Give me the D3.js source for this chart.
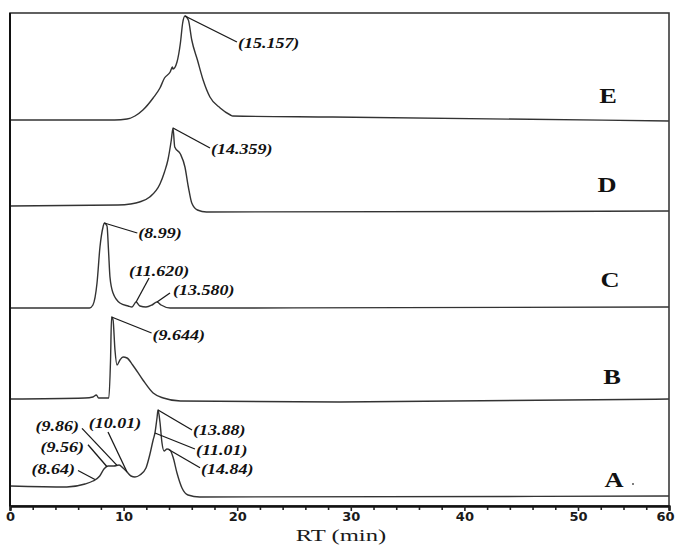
<!DOCTYPE html>
<html>
<head>
<meta charset="utf-8">
<script src="https://cdn.jsdelivr.net/npm/d3@7"></script>
<style>
  body { margin: 0; background: #fff; }
  svg { display: block; }
</style>
</head>
<body>
<svg id="chart" width="677" height="545"></svg>
<script>
// Retention time (min) and detector signal for each sample, stacked bottom (A) to top (E)
const sampleNames = ["A", "B", "C", "D", "E"];

const traceA = [[0,21],[5.0,20],[6.6,23],[7.3,26],[7.9,31],[8.27,38],[8.63,41],[9.15,41],[9.6,42],[9.95,39],
  [10.3,35],[10.65,31],[11.0,30],[11.44,32],[11.97,39],[12.3,52],[12.6,67],[12.76,74],[12.94,89],[13.03,97],
  [13.2,85],[13.38,64],[13.56,56],[13.82,58],[14.08,57],[14.35,50],[14.7,34],[15.14,19],[15.67,12],[16.7,10],[60,11]];

const traceB = [[0,108],[6.6,109],[7.3,110],[7.6,112],[7.8,109],[8.7,109],[8.85,147],[8.94,190],[9.07,187],
  [9.24,157],[9.42,142],[9.68,147],[9.95,150],[10.3,149],[10.8,142],[11.7,127],[12.6,114],[13.5,109],
  [15.0,106],[29,105],[60,108]];

const traceC = [[0,199],[7.0,199],[7.3,202],[7.66,224],[7.92,260],[8.19,280],[8.3,284],[8.54,281],[8.67,257],
  [8.8,230],[9.07,214],[9.68,204],[10.4,201],[10.74,200],[11.1,205],[11.44,201],[11.97,200],[12.5,202],
  [12.94,205],[13.3,202],[14.1,199],[60,200]];

const traceD = [[0,301],[9.5,302],[10.6,303],[11.4,305],[12.3,310],[13.2,323],[13.6,335],[13.9,347],[14.2,367],[14.35,379],
  [14.5,360],[15.0,353],[15.4,340],[15.7,320],[16.0,304],[16.5,297],[17.3,295],[60,296]];

const traceE = [[0,387],[9.2,387],[10.3,388],[11.0,391],[11.7,397],[12.6,409],[13.2,419],[13.6,429],[14.1,435],[14.3,440],
  [14.35,438],[14.7,445],[15.0,464],[15.2,484],[15.4,491],[15.7,487],[16.0,467],[16.5,447],[17.0,427],
  [17.6,410],[18.5,399],[19.4,392],[19.6,391],[28.4,390],[60,386]];

const traces = [traceA, traceB, traceC, traceD, traceE];

// Peak annotations: sample, label text, retention time on the trace where the leader starts
const peakSample = ["E", "D", "C", "C", "C", "B", "A", "A", "A", "A", "A", "A", "A"];
const peakText = ["(15.157)", "(14.359)", "(8.99)", "(11.620)", "(13.580)", "(9.644)",
  "(13.88)", "(11.01)", "(14.84)", "(9.86)", "(10.01)", "(9.56)", "(8.64)"];
const peakTime = [15.4, 14.35, 8.3, 11.1, 12.94, 8.94, 13.03, 12.76, 14.0, 9.42, 10.3, 8.54, 7.48];

// Axis ticks
const majorTicks = [0, 10, 20, 30, 40, 50, 60];
const minorTicks = [2,4,6,8,12,14,16,18,22,24,26,28,32,34,36,38,42,44,46,48,52.5,55,57.5];

// ---- layout ----
const plot = { left: 10, right: 669, top: 13, bottom: 506 };

// leader line end (offset from peak) and label placement relative to that end
const labelLayout = [
  { dx: 52, dy: 26, tx: 1, ty: 6, anchor: "start" },
  { dx: 37, dy: 20, tx: 1, ty: 6, anchor: "start" },
  { dx: 33, dy: 10, tx: 1, ty: 5, anchor: "start" },
  { dx: 13, dy: -24, tx: 10, ty: -2, anchor: "middle" },
  { dx: 13, dy: -9, tx: 3, ty: 2, anchor: "start" },
  { dx: 40, dy: 16, tx: 1, ty: 7, anchor: "start" },
  { dx: 34, dy: 20, tx: 1, ty: 5, anchor: "start" },
  { dx: 40, dy: 16, tx: 1, ty: 6, anchor: "start" },
  { dx: 31, dy: 18, tx: 1, ty: 6, anchor: "start" },
  { dx: -35, dy: -37, tx: -3, ty: 3, anchor: "end" },
  { dx: -19, dy: -40, tx: 7, ty: -4, anchor: "middle" },
  { dx: -19, dy: -22, tx: -4, ty: 7, anchor: "end" },
  { dx: -17, dy: -9, tx: -3, ty: 3, anchor: "end" }
];
const sampleLabelPos = [
  { x: 614, y: 487 }, { x: 612, y: 384 }, { x: 610, y: 287 }, { x: 607, y: 192 }, { x: 608, y: 103 }
];

const svg = d3.select("#chart");

const x = d3.scaleLinear().domain([0, 50, 60]).range([plot.left, 578, plot.right]);
const y = d3.scaleLinear().domain([0, 494]).range([507, 13]);

const line = d3.line()
  .x(d => x(d[0]))
  .y(d => y(d[1]))
  .curve(d3.curveMonotoneX);

// chromatogram traces
svg.append("g")
  .selectAll("path")
  .data(traces)
  .join("path")
  .attr("d", line)
  .attr("fill", "none")
  .attr("stroke", "#333")
  .attr("stroke-width", 1.4)
  .attr("stroke-linejoin", "round");

// frame
svg.append("rect")
  .attr("x", plot.left).attr("y", plot.top)
  .attr("width", plot.right - plot.left).attr("height", plot.bottom - plot.top)
  .attr("fill", "none").attr("stroke", "#3a3a3a").attr("stroke-width", 1.6);
svg.append("line")
  .attr("x1", plot.left).attr("x2", plot.left)
  .attr("y1", plot.top).attr("y2", plot.bottom)
  .attr("stroke", "#111").attr("stroke-width", 2);

// x axis
const axisMajor = d3.axisBottom(x).tickValues(majorTicks).tickSize(5).tickPadding(1).tickFormat(d3.format("d"));
const axisMinor = d3.axisBottom(x).tickValues(minorTicks).tickSize(4).tickFormat("");

const gMinor = svg.append("g").attr("transform", `translate(0,${plot.bottom})`).call(axisMinor);
const gMajor = svg.append("g").attr("transform", `translate(0,${plot.bottom})`).call(axisMajor);
[gMinor, gMajor].forEach(g => {
  g.select(".domain").attr("stroke", "#111").attr("stroke-width", 2);
  g.selectAll(".tick line").attr("stroke", "#222").attr("stroke-width", 1.6);
});
gMajor.selectAll(".tick text")
  .attr("fill", "#1a1a1a")
  .attr("dx", d => d === 60 ? -4 : 0)
  .style("font-family", "'DejaVu Sans', sans-serif")
  .style("font-weight", "600")
  .style("font-size", "13px");

svg.append("text")
  .attr("transform", `translate(341,541) scale(1.45,1)`)
  .attr("text-anchor", "middle")
  .attr("fill", "#1a1a1a")
  .style("font-family", "'Liberation Serif', 'Times New Roman', serif")
  .style("font-size", "17px")
  .text("RT (min)");

// sample letters
svg.append("g")
  .selectAll("text")
  .data(sampleNames)
  .join("text")
  .attr("transform", (d, i) => `translate(${sampleLabelPos[i].x},${sampleLabelPos[i].y}) scale(1.2,1)`)
  .attr("text-anchor", "middle")
  .attr("fill", "#111")
  .style("font-family", "'Liberation Serif', 'Times New Roman', serif")
  .style("font-weight", "bold")
  .style("font-size", "22px")
  .text(d => d);
svg.append("circle")
  .attr("cx", 633).attr("cy", 484).attr("r", 1).attr("fill", "#555");

// peak annotations with leader lines
function valueAt(trace, t) {
  const i = d3.bisector(d => d[0]).left(trace, t);
  if (i <= 0) return trace[0][1];
  if (i >= trace.length) return trace[trace.length - 1][1];
  const a = trace[i - 1], b = trace[i];
  return a[1] + (b[1] - a[1]) * (t - a[0]) / (b[0] - a[0]);
}

const annotations = peakText.map((text, i) => {
  const trace = traces[sampleNames.indexOf(peakSample[i])];
  const px = x(peakTime[i]);
  const py = y(valueAt(trace, peakTime[i]));
  const L = labelLayout[i];
  return { text, px, py, ex: px + L.dx, ey: py + L.dy, L };
});

const gAnn = svg.append("g");
gAnn.selectAll("line")
  .data(annotations)
  .join("line")
  .attr("x1", d => d.px).attr("y1", d => d.py)
  .attr("x2", d => d.ex).attr("y2", d => d.ey)
  .attr("stroke", "#1a1a1a").attr("stroke-width", 1.3);

gAnn.selectAll("text")
  .data(annotations)
  .join("text")
  .attr("transform", d => `translate(${d.ex + d.L.tx},${d.ey + d.L.ty}) scale(1.2,1)`)
  .attr("text-anchor", d => d.L.anchor)
  .attr("fill", "#111")
  .style("font-family", "'Liberation Serif', 'Times New Roman', serif")
  .style("font-weight", "bold")
  .style("font-style", "italic")
  .style("font-size", "15px")
  .text(d => d.text);
</script>
</body>
</html>
